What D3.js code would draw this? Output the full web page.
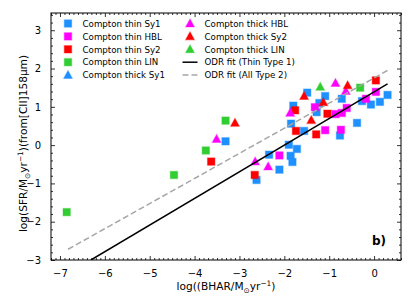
<!DOCTYPE html>
<html>
<head>
<meta charset="utf-8">
<script src="https://cdn.jsdelivr.net/npm/d3@7"></script>
<style>
  body { margin: 0; background: #fff; }
  text { font-family: "DejaVu Sans", sans-serif; }
</style>
</head>
<body>
<div id="chart"></div>
<script>
// data: [log BHAR, log SFR]
const thinSy1 = [[-3.31, 0.10], [-2.34, -0.25], [-2.62, -0.91], [-2.11, -0.64], [-1.90, 0.01],
  [-1.72, -0.10], [-1.86, -0.28], [-1.82, -0.44], [-1.49, 1.37], [-1.80, 1.03], [-1.85, 0.56],
  [-1.56, 0.37], [-1.28, 0.86], [-1.22, 1.10], [-1.09, 1.28], [-0.72, 1.21], [-0.76, 0.25],
  [-0.38, 0.58], [-0.27, 1.15], [-0.07, 1.06], [0.13, 1.13], [0.30, 1.31]];
const thinHBL = [[-2.11, -0.27], [-1.32, 0.99], [-0.86, 0.81], [-0.72, 0.84], [-0.61, 0.97],
  [-1.09, 0.39], [-0.74, 0.40], [-0.18, 1.21], [0.04, 1.39]];
const thinSy2 = [[-3.63, -0.43], [-2.66, -0.78], [-1.76, 0.91], [-1.74, 0.37], [-1.29, 0.28],
  [-1.04, 0.82], [0.04, 1.69]];
const thinLIN = [[-6.85, -1.75], [-4.46, -0.78], [-3.75, -0.14], [-3.31, 0.64], [-0.31, 1.50]];
const thickSy1 = [];
const thickHBL = [[-3.51, 0.16], [-2.65, -0.43], [-2.36, -0.56], [-1.87, 0.84], [-0.86, 1.62], [-0.63, 1.41]];
const thickSy2 = [[-3.10, 0.58], [-1.56, 1.28], [-1.40, 0.65], [-1.13, 1.12], [-0.59, 1.56]];
const thickLIN = [[-1.20, 1.52]];

// fit lines (end points)
const fitThin = [[-6.31, -3.0], [0.30, 1.60]];
const fitAll = [[-6.82, -2.72], [0.30, 1.95]];

const xTicks = [-7, -6, -5, -4, -3, -2, -1, 0];
const yTicks = [-3, -2, -1, 0, 1, 2, 3];

const series = [
  {label: "Compton thin Sy1", data: thinSy1, color: "#1e90ff", shape: "square"},
  {label: "Compton thin HBL", data: thinHBL, color: "#ff00ff", shape: "square"},
  {label: "Compton thin Sy2", data: thinSy2, color: "#ff0000", shape: "square"},
  {label: "Compton thin LIN", data: thinLIN, color: "#32cd32", shape: "square"},
  {label: "Compton thick Sy1", data: thickSy1, color: "#1e90ff", shape: "triangle"},
  {label: "Compton thick HBL", data: thickHBL, color: "#ff00ff", shape: "triangle"},
  {label: "Compton thick Sy2", data: thickSy2, color: "#ff0000", shape: "triangle"},
  {label: "Compton thick LIN", data: thickLIN, color: "#32cd32", shape: "triangle"}
];

const W = 415, H = 308;
const plot = {left: 51, right: 401, top: 13, bottom: 260};

const svg = d3.select("#chart").append("svg")
  .attr("width", W)
  .attr("height", H);

const x = d3.scaleLinear().domain([-7.2, 0.6]).range([plot.left, plot.right]);
const y = d3.scaleLinear().domain([-3, 3.45]).range([plot.bottom, plot.top]);

const minorX = d3.range(-72, 7).map(d => d / 10).filter(d => Math.abs(d - Math.round(d)) > 1e-6);
const minorY = d3.range(-15, 18).map(d => d / 5).filter(d => Math.abs(d - Math.round(d)) > 1e-6);

function fmt(d) { return d < 0 ? "\u2212" + Math.abs(d) : String(d); }

// axes: ticks pointing inward on all sides
function addAxis(axisFn, scale, transform, ticks, size, labels) {
  const g = svg.append("g")
    .attr("transform", transform)
    .call(axisFn(scale).tickValues(ticks).tickSizeInner(-size).tickSizeOuter(0)
      .tickPadding(labels ? 6 + size : 0)
      .tickFormat(labels ? fmt : ""));
  g.select(".domain").remove();
  g.selectAll("line").attr("stroke", "#000").attr("stroke-width", 0.8);
  g.selectAll("text").attr("fill", "#000").style("font-size", "10px").style("font-family", "DejaVu Sans");
  return g;
}

addAxis(d3.axisBottom, x, "translate(0," + plot.bottom + ")", xTicks, 4, true);
addAxis(d3.axisBottom, x, "translate(0," + plot.bottom + ")", minorX, 2, false);
addAxis(d3.axisTop, x, "translate(0," + plot.top + ")", xTicks, 4, false);
addAxis(d3.axisTop, x, "translate(0," + plot.top + ")", minorX, 2, false);
addAxis(d3.axisLeft, y, "translate(" + plot.left + ",0)", yTicks, 4, true);
addAxis(d3.axisLeft, y, "translate(" + plot.left + ",0)", minorY, 2, false);
addAxis(d3.axisRight, y, "translate(" + plot.right + ",0)", yTicks, 4, false);
addAxis(d3.axisRight, y, "translate(" + plot.right + ",0)", minorY, 2, false);

svg.append("rect")
  .attr("x", plot.left).attr("y", plot.top)
  .attr("width", plot.right - plot.left).attr("height", plot.bottom - plot.top)
  .attr("fill", "none").attr("stroke", "#000").attr("stroke-width", 1);

svg.append("defs").append("clipPath").attr("id", "clip")
  .append("rect")
  .attr("x", plot.left).attr("y", plot.top)
  .attr("width", plot.right - plot.left).attr("height", plot.bottom - plot.top);

const body = svg.append("g").attr("clip-path", "url(#clip)");

const line = d3.line().x(d => x(d[0])).y(d => y(d[1]));

function marker(sel, shape, color) {
  if (shape === "square") {
    sel.append("rect")
      .attr("x", -3.7).attr("y", -3.7).attr("width", 7.4).attr("height", 7.4)
      .attr("fill", color).attr("stroke", color).attr("stroke-opacity", 0.35).attr("stroke-width", 1.2);
  } else {
    sel.append("path")
      .attr("d", "M0,-4.6L4.4,3.4L-4.4,3.4Z")
      .attr("fill", color).attr("stroke", color).attr("stroke-opacity", 0.35).attr("stroke-width", 1.2);
  }
}

series.forEach(s => {
  body.selectAll(null)
    .data(s.data)
    .enter().append("g")
    .attr("transform", d => "translate(" + x(d[0]) + "," + y(d[1]) + ")")
    .each(function() { marker(d3.select(this), s.shape, s.color); });
});

body.append("path").datum(fitThin).attr("d", line)
  .attr("fill", "none").attr("stroke", "#000").attr("stroke-width", 1.5);
body.append("path").datum(fitAll).attr("d", line)
  .attr("fill", "none").attr("stroke", "#a6a6a6").attr("stroke-width", 1.5)
  .attr("stroke-dasharray", "6,3");

// legend
const legendItems = series.concat([
  {label: "ODR fit (Thin Type 1)", line: "solid"},
  {label: "ODR fit (All Type 2)", line: "dashed"}
]);

const legend = svg.append("g");
legendItems.forEach((item, i) => {
  const col = Math.floor(i / 5), row = i % 5;
  const g = legend.append("g")
    .attr("transform", "translate(" + (col ? 190 : 68) + "," + (23.5 + row * 12.9) + ")");
  if (item.line) {
    g.append("line").attr("x1", -7.5).attr("x2", 7.5)
      .attr("stroke", item.line === "solid" ? "#000" : "#a6a6a6").attr("stroke-width", 1.5)
      .attr("stroke-dasharray", item.line === "solid" ? null : "6,3");
  } else {
    marker(g, item.shape, item.color);
  }
  g.append("text")
    .attr("x", 14.5).attr("y", 3.2)
    .style("font-size", "8.7px")
    .text(item.label);
});

// axis labels
const xl = svg.append("text")
  .attr("x", (plot.left + plot.right) / 2).attr("y", 290)
  .attr("text-anchor", "middle")
  .style("font-size", "10.6px");
xl.append("tspan").text("log((BHAR/M");
xl.append("tspan").attr("dy", 2.5).style("font-size", "7.4px").text("\u2299");
xl.append("tspan").attr("dy", -2.5).text("yr");
xl.append("tspan").attr("dy", -4.2).style("font-size", "7.4px").text("\u22121");
xl.append("tspan").attr("dy", 4.2).text(")");

const yl = svg.append("text")
  .attr("transform", "translate(27," + ((plot.top + plot.bottom) / 2 + 7) + ") rotate(-90)")
  .attr("text-anchor", "middle")
  .style("font-size", "10.6px");
yl.append("tspan").text("log(SFR/M");
yl.append("tspan").attr("dy", 2.5).style("font-size", "7.4px").text("\u2299");
yl.append("tspan").attr("dy", -2.5).text("yr");
yl.append("tspan").attr("dy", -4.2).style("font-size", "7.4px").text("\u22121");
yl.append("tspan").attr("dy", 4.2).text(")(from[CII]158\u03bcm)");

svg.append("text")
  .attr("x", 386).attr("y", 245)
  .attr("text-anchor", "end")
  .style("font-size", "12px")
  .style("font-weight", "bold")
  .text("b)");
</script>
</body>
</html>
